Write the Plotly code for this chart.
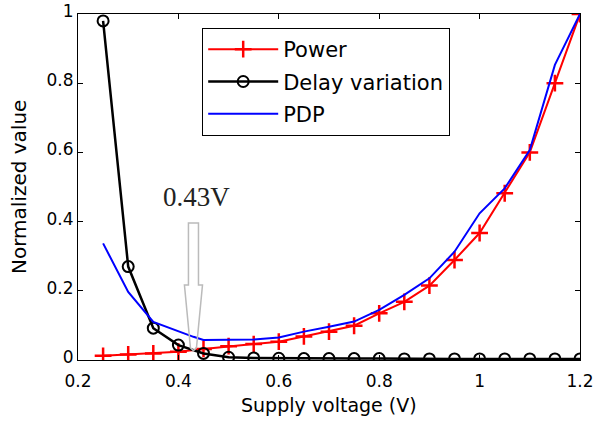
import plotly.graph_objects as go

voltage = [0.25, 0.30, 0.35, 0.40, 0.45, 0.50, 0.55, 0.60, 0.65, 0.70,
           0.75, 0.80, 0.85, 0.90, 0.95, 1.00, 1.05, 1.10, 1.15, 1.20]
power = [0.012, 0.016, 0.019, 0.024, 0.032, 0.040, 0.046, 0.053, 0.068, 0.082,
         0.099, 0.135, 0.168, 0.215, 0.289, 0.367, 0.482, 0.600, 0.800, 1.000]
delay_var = [0.98, 0.27, 0.092, 0.043, 0.019, 0.008, 0.006, 0.005, 0.004, 0.004,
             0.004, 0.004, 0.003, 0.003, 0.003, 0.003, 0.003, 0.003, 0.003, 0.003]
pdp_v = [0.25, 0.30, 0.35, 0.40, 0.43, 0.45, 0.50, 0.55, 0.60, 0.65, 0.70,
         0.75, 0.80, 0.85, 0.90, 0.95, 1.00, 1.05, 1.10, 1.15, 1.20]
pdp = [0.337, 0.197, 0.110, 0.082, 0.067, 0.058, 0.058, 0.059, 0.065, 0.082, 0.096,
       0.111, 0.145, 0.188, 0.236, 0.313, 0.424, 0.496, 0.607, 0.853, 1.000]
marker_v = 0.43
marker_label = "0.43V"
x_ticks = [0.2, 0.4, 0.6, 0.8, 1.0, 1.2]
x_tick_text = ["0.2", "0.4", "0.6", "0.8", "1", "1.2"]
y_ticks = [0, 0.2, 0.4, 0.6, 0.8, 1]
y_tick_text = ["0", "0.2", "0.4", "0.6", "0.8", "1"]

SANS = "DejaVu Sans, Arial, sans-serif"

fig = go.Figure()
fig.add_trace(go.Scatter(
    x=voltage, y=power, name="Power", mode="lines+markers", legendgroup="a",
    line=dict(color="#ff0000", width=2),
    marker=dict(symbol="cross-thin", size=12, color="#ff0000",
                line=dict(color="#ff0000", width=2.5))))
fig.add_trace(go.Scatter(
    x=voltage, y=delay_var, name="Delay variation", mode="lines+markers", legendgroup="b",
    line=dict(color="#000000", width=2.5),
    marker=dict(symbol="circle-open", size=11, color="#000000",
                line=dict(color="#000000", width=2))))
fig.add_trace(go.Scatter(
    x=pdp_v, y=pdp, name="PDP", mode="lines", legendgroup="c",
    line=dict(color="#0000ff", width=2)))

# hollow arrow pointing at the optimum voltage
hw, hh = 0.010, 0.018
top, neck, tip = 0.396, 0.217, 0.035
path = (f"M {marker_v-hw},{top} L {marker_v+hw},{top} L {marker_v+hw},{neck} "
        f"L {marker_v+hh},{neck} L {marker_v+0.006},{tip} L {marker_v},{tip-0.008} "
        f"L {marker_v-0.006},{tip} L {marker_v-hh},{neck} L {marker_v-hw},{neck} Z")
fig.add_shape(type="path", path=path, xref="x", yref="y",
              line=dict(color="#bbbbbb", width=1.5), fillcolor="rgba(255,255,255,0)")
fig.add_annotation(x=marker_v + 0.007, y=0.47, xref="x", yref="y", text=marker_label,
                   showarrow=False,
                   font=dict(family="Liberation Serif, Times New Roman, serif",
                             size=27, color="#222222"))

# axis titles
fig.add_annotation(x=0.5, y=0, xref="paper", yref="paper", yanchor="middle",
                   yshift=-45, text="Supply voltage (V)", showarrow=False,
                   font=dict(family=SANS, size=19, color="#000000"))
fig.add_annotation(x=0, y=0.5, xref="paper", yref="paper", xanchor="center",
                   xshift=-59, text="Normalized value", showarrow=False, textangle=-90,
                   font=dict(family=SANS, size=20, color="#000000"))

axis_common = dict(showline=True, linecolor="#000000", linewidth=1.2, mirror="ticks",
                   ticks="inside", ticklen=5, tickcolor="#000000", showgrid=False,
                   zeroline=False, automargin=False,
                   tickfont=dict(family=SANS, size=17, color="#000000"))
fig.update_xaxes(range=[0.2, 1.2], tickvals=x_ticks, ticktext=x_tick_text,
                 ticklabelstandoff=5, **axis_common)
fig.update_yaxes(range=[0, 1], tickvals=y_ticks, ticktext=y_tick_text,
                 ticklabelshift=-3, **axis_common)
fig.update_layout(
    width=595, height=424,
    margin=dict(l=78, r=15, t=14, b=64, autoexpand=False),
    paper_bgcolor="white", plot_bgcolor="white",
    legend=dict(x=0.247, y=0.96, xanchor="left", yanchor="top",
                bordercolor="#000000", borderwidth=1.2, bgcolor="white",
                font=dict(family=SANS, size=21, color="#000000"),
                tracegroupgap=2, itemwidth=70),
)
fig.write_html("out.html", config={"displayModeBar": False},
               post_script="document.body.style.margin='0';")
